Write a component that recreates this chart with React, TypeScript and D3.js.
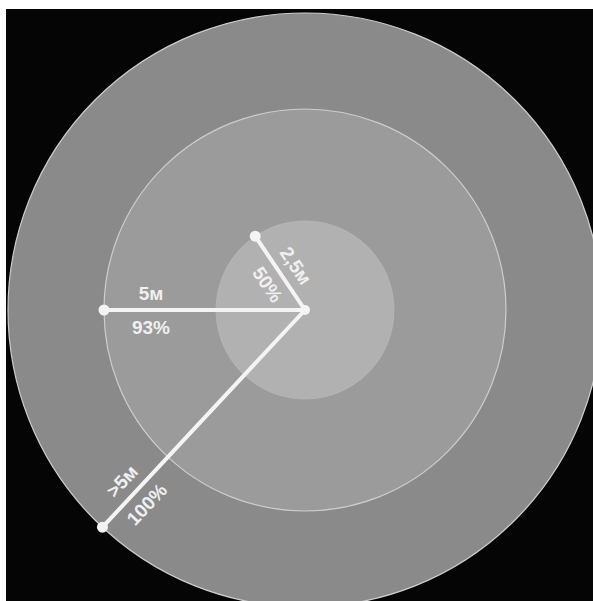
import React from "react";
import * as d3 from "d3";

// Data
const distanceLabels = ["2,5м", "5м", ">5м"];
const percentLabels = ["50%", "93%", "100%"];
const distanceValues = [2.5, 5, 7.5];
const directionDeg = [-34, -90, -137]; // clock angle of each radius (0 = up, clockwise)
const ringFills = ["#b1b1b1", "#9b9b9b", "#8a8a8a"];

const W = 593;
const H = 601;
const cx = 305;
const cy = 310;

export default function App() {
  const rScale = d3.scaleLinear().domain([0, 2.5, 5, 7.5]).range([0, 89, 201, 297]);
  const rings = distanceValues.map((v, i) => ({ v, i })).reverse();
  const labelBack = 47;
  const perp = 17;

  return (
    <svg
      width={W}
      height={H}
      style={{ position: "absolute", left: 0, top: 0, display: "block" }}
      fontFamily="'Liberation Sans', Arial, sans-serif"
    >
      <rect x={0} y={0} width={W} height={H} fill="#ffffff" />
      <rect x={6} y={9} width={W - 6} height={H - 9} fill="#050505" />
      <g transform={`translate(${cx},${cy})`}>
        {rings.map(({ v, i }) => (
          <circle
            key={i}
            r={rScale(v)}
            fill={ringFills[i]}
            stroke={i === 0 ? "#bababa" : "#cdcdcd"}
            strokeWidth={i === 0 ? 0.7 : 1.2}
          />
        ))}
        {distanceValues.map((v, i) => {
          const a = (directionDeg[i] * Math.PI) / 180;
          const r = rScale(v);
          const x = r * Math.sin(a);
          const y = -r * Math.cos(a);
          // text direction: from end-point toward center
          const rot = (Math.atan2(-y, -x) * 180) / Math.PI;
          const dl = r - labelBack;
          const lx = dl * Math.sin(a);
          const ly = -dl * Math.cos(a);
          return (
            <g key={i}>
              <line x1={0} y1={0} x2={x} y2={y} stroke="#f4f4f4" strokeWidth={4} strokeLinecap="round" />
              <circle cx={x} cy={y} r={5.5} fill="#f4f4f4" />
              <g transform={`translate(${lx},${ly}) rotate(${rot})`}>
                <text
                  y={-perp}
                  textAnchor="middle"
                  dominantBaseline="central"
                  fill="#f0f0f0"
                  fontSize={19}
                  fontWeight={700}
                >
                  {distanceLabels[i]}
                </text>
                <text
                  y={perp}
                  textAnchor="middle"
                  dominantBaseline="central"
                  fill="#f0f0f0"
                  fontSize={19}
                  fontWeight={700}
                >
                  {percentLabels[i]}
                </text>
              </g>
            </g>
          );
        })}
        <circle r={5} fill="#f4f4f4" />
      </g>
    </svg>
  );
}
